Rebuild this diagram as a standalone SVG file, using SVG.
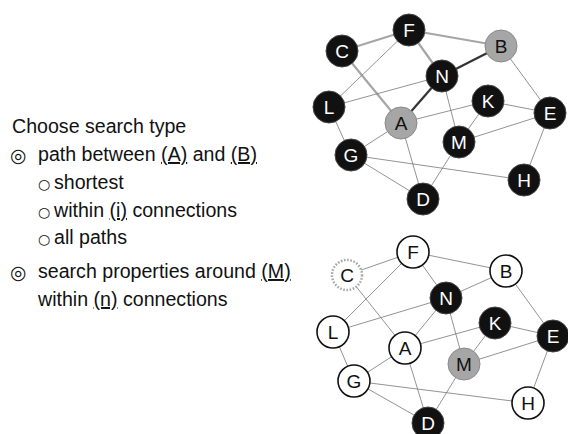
<svg xmlns="http://www.w3.org/2000/svg" width="568" height="434" viewBox="0 0 568 434">
<style>
  .txt { font-family: "Liberation Sans", Arial, sans-serif; font-size: 19.6px; fill: #111; }
  .u { text-decoration: underline; text-decoration-thickness: 2px; }
  .bul { font-family: "DejaVu Sans", sans-serif; font-size: 14px; fill: #111; }
  .bul2 { font-family: "DejaVu Sans", sans-serif; font-size: 19px; fill: #111; }
  .e { stroke: #777; stroke-width: 0.8; fill: none; }
  .eg { stroke: #a6a6a6; stroke-width: 2.2; fill: none; }
  .ed { stroke: #333; stroke-width: 2.2; fill: none; }
  .nb circle { fill: #111; stroke: #444; stroke-width: 1; }
  .nb text { fill: #fff; }
  .ng circle { fill: #a6a6a6; stroke: #8a8a8a; stroke-width: 1; }
  .ng text { fill: #111; }
  .nw circle { fill: #fff; stroke: #111; stroke-width: 1.6; }
  .nw text { fill: #111; }
  .nc circle { fill: #fff; stroke: #a6a6a6; stroke-width: 2.5; stroke-dasharray: 1.6 1.6; }
  .nc text { fill: #111; }
  .lbl { font-family: "Liberation Sans", Arial, sans-serif; font-size: 19px; text-anchor: middle; dominant-baseline: central; }
</style>
<rect width="568" height="434" fill="#fff"/>

<g id="menu">
  <text class="txt" x="12" y="133">Choose search type</text>
  <text class="bul2" x="10" y="162">◎</text>
  <text class="txt" x="38" y="161">path between <tspan class="u">(A)</tspan> and <tspan class="u">(B)</tspan></text>
  <text class="bul" x="38" y="189">○</text>
  <text class="txt" x="54" y="189">shortest</text>
  <text class="bul" x="38" y="217">○</text>
  <text class="txt" x="54" y="217">within <tspan class="u">(i)</tspan> connections</text>
  <text class="bul" x="38" y="244">○</text>
  <text class="txt" x="54" y="244">all paths</text>
  <text class="bul2" x="10" y="279">◎</text>
  <text class="txt" x="38" y="278">search properties around <tspan class="u">(M)</tspan></text>
  <text class="txt" x="38" y="306">within <tspan class="u">(n)</tspan> connections</text>
</g>

<g id="connectors-top">
  <line class="eg" x1="342" y1="51" x2="409" y2="30"/>
  <line class="eg" x1="409" y1="30" x2="501" y2="46"/>
  <line class="eg" x1="409" y1="30" x2="442" y2="76"/>
  <line class="eg" x1="342" y1="51" x2="401" y2="123"/>
  <line class="ed" x1="401" y1="123" x2="442" y2="76"/>
  <line class="ed" x1="442" y1="76" x2="501" y2="46"/>
  <line class="e" x1="409" y1="30" x2="329" y2="107"/>
  <line class="e" x1="329" y1="107" x2="442" y2="76"/>
  <line class="e" x1="442" y1="76" x2="459" y2="142"/>
  <line class="e" x1="501" y1="46" x2="550" y2="113"/>
  <line class="e" x1="488" y1="101" x2="550" y2="113"/>
  <line class="e" x1="401" y1="123" x2="488" y2="101"/>
  <line class="e" x1="488" y1="101" x2="459" y2="142"/>
  <line class="e" x1="459" y1="142" x2="550" y2="113"/>
  <line class="e" x1="329" y1="107" x2="351" y2="155"/>
  <line class="e" x1="401" y1="123" x2="351" y2="155"/>
  <line class="e" x1="401" y1="123" x2="423" y2="199"/>
  <line class="e" x1="351" y1="155" x2="423" y2="199"/>
  <line class="e" x1="351" y1="155" x2="524" y2="180"/>
  <line class="e" x1="459" y1="142" x2="423" y2="199"/>
  <line class="e" x1="550" y1="113" x2="524" y2="180"/>
</g>

<g id="connectors-bottom">
  <line class="e" x1="347" y1="275" x2="413" y2="252"/>
  <line class="e" x1="413" y1="252" x2="506" y2="271"/>
  <line class="e" x1="413" y1="252" x2="446" y2="298"/>
  <line class="e" x1="347" y1="275" x2="405" y2="348"/>
  <line class="e" x1="405" y1="348" x2="446" y2="298"/>
  <line class="e" x1="446" y1="298" x2="506" y2="271"/>
  <line class="e" x1="413" y1="252" x2="333" y2="332"/>
  <line class="e" x1="333" y1="332" x2="446" y2="298"/>
  <line class="e" x1="446" y1="298" x2="464" y2="364"/>
  <line class="e" x1="506" y1="271" x2="553" y2="336"/>
  <line class="e" x1="495" y1="323" x2="553" y2="336"/>
  <line class="e" x1="405" y1="348" x2="495" y2="323"/>
  <line class="e" x1="495" y1="323" x2="464" y2="364"/>
  <line class="e" x1="464" y1="364" x2="553" y2="336"/>
  <line class="e" x1="333" y1="332" x2="354" y2="381"/>
  <line class="e" x1="405" y1="348" x2="354" y2="381"/>
  <line class="e" x1="405" y1="348" x2="428" y2="423"/>
  <line class="e" x1="354" y1="381" x2="428" y2="423"/>
  <line class="e" x1="354" y1="381" x2="528" y2="403"/>
  <line class="e" x1="464" y1="364" x2="428" y2="423"/>
  <line class="e" x1="553" y1="336" x2="528" y2="403"/>
</g>

<g id="top-graph">
  <g id="t-F" class="nb"><circle cx="409" cy="30" r="16"/><text class="lbl" x="409" y="30">F</text></g>
  <g id="t-C" class="nb"><circle cx="342" cy="51" r="16"/><text class="lbl" x="342" y="51">C</text></g>
  <g id="t-B" class="ng"><circle cx="501" cy="46" r="16"/><text class="lbl" x="501" y="46">B</text></g>
  <g id="t-N" class="nb"><circle cx="442" cy="76" r="16"/><text class="lbl" x="442" y="76">N</text></g>
  <g id="t-L" class="nb"><circle cx="329" cy="107" r="16"/><text class="lbl" x="329" y="107">L</text></g>
  <g id="t-K" class="nb"><circle cx="488" cy="101" r="16"/><text class="lbl" x="488" y="101">K</text></g>
  <g id="t-E" class="nb"><circle cx="550" cy="113" r="16"/><text class="lbl" x="550" y="113">E</text></g>
  <g id="t-A" class="ng"><circle cx="401" cy="123" r="16"/><text class="lbl" x="401" y="123">A</text></g>
  <g id="t-M" class="nb"><circle cx="459" cy="142" r="16"/><text class="lbl" x="459" y="142">M</text></g>
  <g id="t-G" class="nb"><circle cx="351" cy="155" r="16"/><text class="lbl" x="351" y="155">G</text></g>
  <g id="t-H" class="nb"><circle cx="524" cy="180" r="16"/><text class="lbl" x="524" y="180">H</text></g>
  <g id="t-D" class="nb"><circle cx="423" cy="199" r="16"/><text class="lbl" x="423" y="199">D</text></g>
</g>

<g id="bottom-graph">
  <g id="b-F" class="nw"><circle cx="413" cy="252" r="16"/><text class="lbl" x="413" y="252">F</text></g>
  <g id="b-C" class="nc"><circle cx="347" cy="275" r="15"/><text class="lbl" x="347" y="275">C</text></g>
  <g id="b-B" class="nw"><circle cx="506" cy="271" r="16"/><text class="lbl" x="506" y="271">B</text></g>
  <g id="b-N" class="nb"><circle cx="446" cy="298" r="16"/><text class="lbl" x="446" y="298">N</text></g>
  <g id="b-L" class="nw"><circle cx="333" cy="332" r="16"/><text class="lbl" x="333" y="332">L</text></g>
  <g id="b-K" class="nb"><circle cx="495" cy="323" r="16"/><text class="lbl" x="495" y="323">K</text></g>
  <g id="b-E" class="nb"><circle cx="553" cy="336" r="16"/><text class="lbl" x="553" y="336">E</text></g>
  <g id="b-A" class="nw"><circle cx="405" cy="348" r="16"/><text class="lbl" x="405" y="348">A</text></g>
  <g id="b-M" class="ng"><circle cx="464" cy="364" r="16"/><text class="lbl" x="464" y="364">M</text></g>
  <g id="b-G" class="nw"><circle cx="354" cy="381" r="16"/><text class="lbl" x="354" y="381">G</text></g>
  <g id="b-H" class="nw"><circle cx="528" cy="403" r="16"/><text class="lbl" x="528" y="403">H</text></g>
  <g id="b-D" class="nb"><circle cx="428" cy="423" r="16"/><text class="lbl" x="428" y="423">D</text></g>
</g>
</svg>
